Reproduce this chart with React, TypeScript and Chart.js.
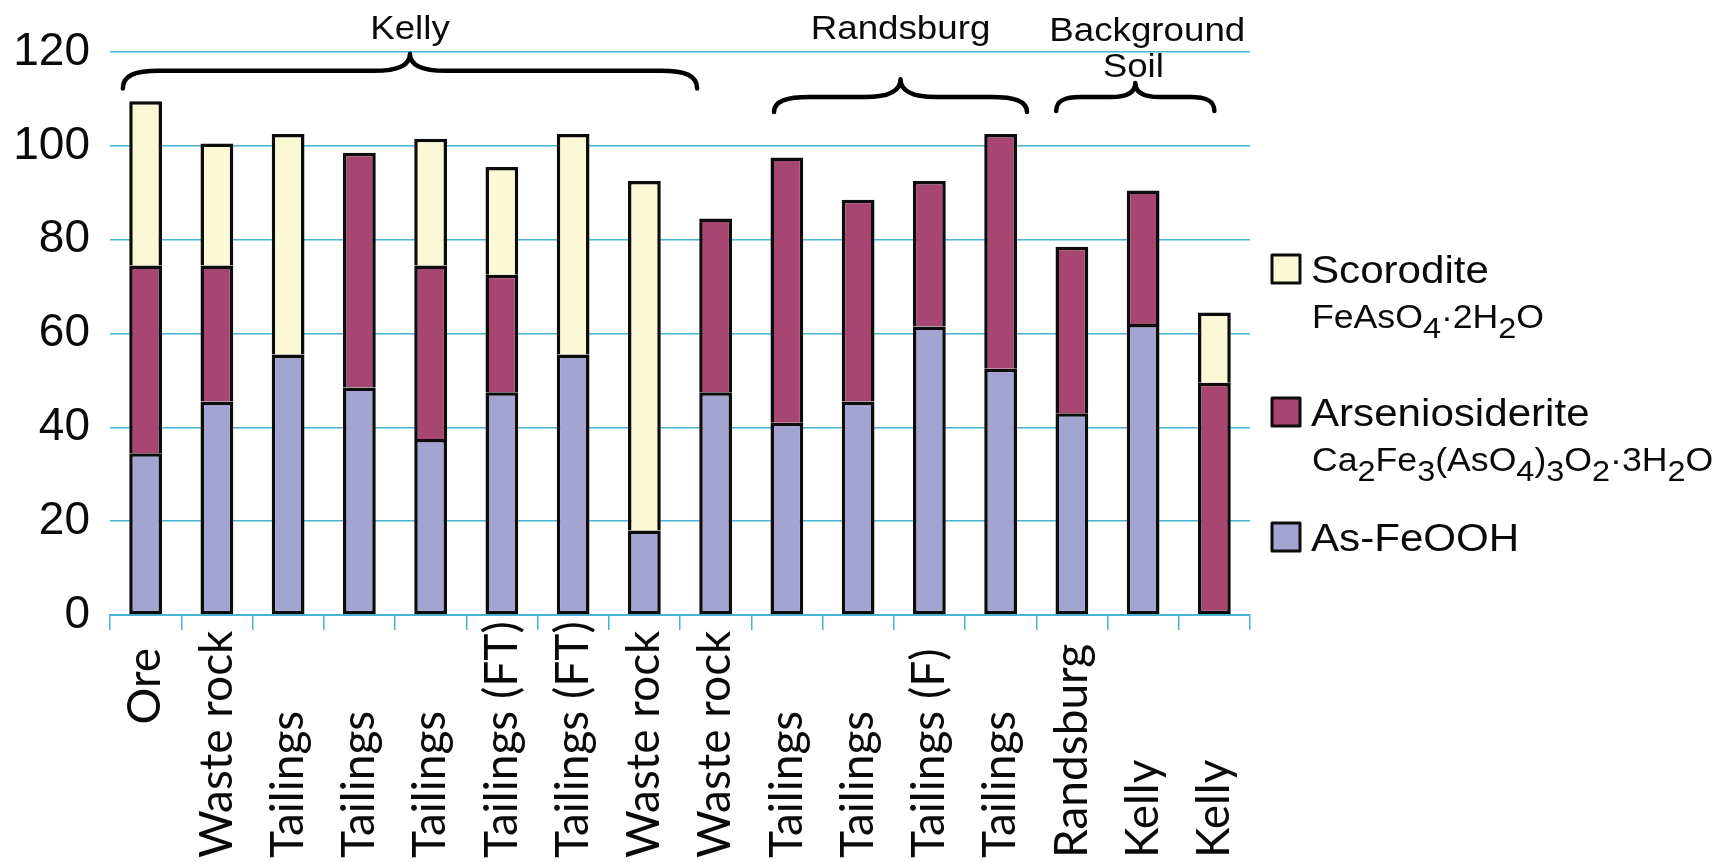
import React, { useEffect, useRef } from "react";
import { Chart, registerables } from "chart.js";

Chart.register(...registerables);

// Sample sites along the x axis
const categories = [
  "Ore", "Waste rock", "Tailings", "Tailings", "Tailings", "Tailings (FT)",
  "Tailings (FT)", "Waste rock", "Waste rock", "Tailings", "Tailings",
  "Tailings (F)", "Tailings", "Randsburg", "Kelly", "Kelly",
];

// Percent of arsenic held in each phase (stack segments, bottom to top)
const asFeOOH = [34.5, 45.5, 55.5, 48.5, 37.5, 47.5, 55.5, 18, 47.5, 41, 45.5, 61.5, 52.5, 43, 62, null];
const arseniosiderite = [40, 29, null, 50, 37, 25, null, null, 37, 56.5, 43, 31, 50, 35.5, 28.5, 49.5];
const scorodite = [35, 26, 47, null, 27, 23, 47, 74.5, null, null, null, null, null, null, null, 15];

const yMin = 0;
const yMax = 120;
const yStep = 20;

// Site groups shown with braces above the bars
const groupNames = [["Kelly"], ["Randsburg"], ["Background", "Soil"]];

// Legend names and formulas (formula parts: [text, subscript?])
const legendNames = ["Scorodite", "Arseniosiderite", "As-FeOOH"];
const scoroditeFormula: [string, boolean][] = [
  ["FeAsO", false], ["4", true], ["\u00B72H", false], ["2", true], ["O", false],
];
const arseniosideriteFormula: [string, boolean][] = [
  ["Ca", false], ["2", true], ["Fe", false], ["3", true], ["(AsO", false], ["4", true],
  [")", false], ["3", true], ["O", false], ["2", true], ["\u00B73H", false], ["2", true], ["O", false],
];

const COLORS = {
  feooh: "#a3a4d2",
  arsenio: "#a84672",
  scorodite: "#fbf8d5",
  edge: "#0c0c0c",
  grid: "#47b4d4",
  text: "#0a0a0a",
};

const ARIAL = "'Liberation Sans', Arial, sans-serif";
const LABEL_FONT = "Lato, 'Open Sans', sans-serif";
const TEXT_SX = 1.08; // horizontal stretch applied to annotation text

const series = [asFeOOH, arseniosiderite, scorodite];

function stretchedText(ctx: CanvasRenderingContext2D, text: string, x: number, y: number, align: CanvasTextAlign) {
  ctx.save();
  ctx.translate(x, y);
  ctx.scale(TEXT_SX, 1);
  ctx.textAlign = align;
  ctx.fillText(text, 0, 0);
  ctx.restore();
}

function drawFormula(ctx: CanvasRenderingContext2D, parts: [string, boolean][], x: number, y: number) {
  let cx = x;
  for (const [t, sub] of parts) {
    ctx.font = sub ? `30px ${ARIAL}` : `33px ${ARIAL}`;
    const dy = sub ? 10 : 0;
    ctx.save();
    ctx.translate(cx, y + dy);
    ctx.scale(TEXT_SX, 1);
    ctx.textAlign = "left";
    ctx.fillText(t, 0, 0);
    ctx.restore();
    cx += ctx.measureText(t).width * TEXT_SX;
  }
}

function drawBrace(ctx: CanvasRenderingContext2D, x1: number, x2: number, yTip: number, yBar: number, yEnd: number) {
  const xm = (x1 + x2) / 2;
  const r = Math.min(36, (x2 - x1) / 6.5);
  const h = yEnd - yBar;
  const t = yBar - yTip;
  ctx.beginPath();
  ctx.moveTo(x1, yEnd);
  ctx.bezierCurveTo(x1, yBar + h * 0.25, x1 + r * 0.35, yBar, x1 + r, yBar);
  ctx.lineTo(xm - r, yBar);
  ctx.bezierCurveTo(xm - r * 0.3, yBar, xm, yBar - t * 0.35, xm, yTip);
  ctx.bezierCurveTo(xm, yBar - t * 0.35, xm + r * 0.3, yBar, xm + r, yBar);
  ctx.lineTo(x2 - r, yBar);
  ctx.bezierCurveTo(x2 - r * 0.35, yBar, x2, yBar + h * 0.25, x2, yEnd);
  ctx.stroke();
}

// Brace extents in category units, heights in axis units, text offsets in px
const braceLayout = [
  { from: -0.32, to: 7.74, tip: 119.6, bar: 116.0, end: 112.2, text: [122.8], dx: [0] },
  { from: 8.82, to: 12.37, tip: 114.2, bar: 110.4, end: 107.2, text: [122.8], dx: [0] },
  { from: 12.78, to: 15.0, tip: 113.4, bar: 110.4, end: 107.4, text: [122.4, 114.7], dx: [12, -2] },
];

// Labels that hang from the axis instead of sitting on the bottom edge
const hangingLabels = [0];

const overlayPlugin = {
  id: "overlay",
  afterDraw(chart: any) {
    const ctx: CanvasRenderingContext2D = chart.ctx;
    const xs = chart.scales.x;
    const ys = chart.scales.y;
    ctx.save();
    ctx.fillStyle = COLORS.text;

    // rotated category labels
    ctx.font = `46px ${LABEL_FONT}`;
    ctx.textBaseline = "middle";
    categories.forEach((label, i) => {
      const px = xs.getPixelForValue(i);
      ctx.save();
      if (hangingLabels.includes(i)) {
        ctx.translate(px, xs.bottom - 214);
        ctx.rotate(-Math.PI / 2);
        ctx.textAlign = "right";
      } else {
        ctx.translate(px, xs.bottom - 4);
        ctx.rotate(-Math.PI / 2);
        ctx.textAlign = "left";
      }
      ctx.fillText(label, 0, 0);
      ctx.restore();
    });

    // group braces and names
    ctx.strokeStyle = "#000";
    ctx.lineWidth = 4.5;
    ctx.lineCap = "round";
    ctx.lineJoin = "round";
    ctx.textBaseline = "alphabetic";
    ctx.font = `34px ${ARIAL}`;
    braceLayout.forEach((b, g) => {
      const x1 = xs.getPixelForValue(b.from);
      const x2 = xs.getPixelForValue(b.to);
      drawBrace(ctx, x1, x2, ys.getPixelForValue(b.tip), ys.getPixelForValue(b.bar), ys.getPixelForValue(b.end));
      groupNames[g].forEach((line, k) => {
        stretchedText(ctx, line, (x1 + x2) / 2 + b.dx[k], ys.getPixelForValue(b.text[k]), "center");
      });
    });

    // legend
    const sw = 28;
    const lx = chart.chartArea.right + 22;
    const tx = lx + 39;
    const fills = [COLORS.scorodite, COLORS.arsenio, COLORS.feooh];
    const swTops = [255, 398, 523];
    const formulas = [scoroditeFormula, arseniosideriteFormula, null];
    legendNames.forEach((name, i) => {
      ctx.fillStyle = fills[i];
      ctx.fillRect(lx, swTops[i], sw, sw);
      ctx.lineWidth = 3;
      ctx.strokeStyle = COLORS.edge;
      ctx.strokeRect(lx, swTops[i], sw, sw);
      ctx.fillStyle = COLORS.text;
      ctx.font = `39px ${ARIAL}`;
      stretchedText(ctx, name, tx, swTops[i] + sw, "left");
      const f = formulas[i];
      if (f) drawFormula(ctx, f, tx + 1, swTops[i] + sw + 45);
    });
    ctx.restore();
  },
};

function lowestSegment(datasetIndex: number, dataIndex: number) {
  for (let k = 0; k < datasetIndex; k++) {
    if (series[k][dataIndex] != null) return false;
  }
  return true;
}

export default function App() {
  const canvasRef = useRef<HTMLCanvasElement | null>(null);

  useEffect(() => {
    const canvas = canvasRef.current;
    if (!canvas) return;
    const skip = (c: any) => (lowestSegment(c.datasetIndex, c.dataIndex) ? false : "start");
    const chart = new Chart(canvas, {
      type: "bar",
      data: {
        labels: categories,
        datasets: [
          { label: legendNames[2], data: asFeOOH, backgroundColor: COLORS.feooh },
          { label: legendNames[1], data: arseniosiderite, backgroundColor: COLORS.arsenio },
          { label: legendNames[0], data: scorodite, backgroundColor: COLORS.scorodite },
        ].map((d) => ({
          ...d,
          borderColor: COLORS.edge,
          borderWidth: 3.5,
          borderSkipped: skip,
          categoryPercentage: 1,
          barPercentage: 0.46,
        })) as any,
      },
      options: {
        animation: false,
        responsive: false,
        devicePixelRatio: 1,
        layout: { padding: { left: 0, right: 472, top: 52, bottom: 0 } },
        plugins: { legend: { display: false }, tooltip: { enabled: false } },
        scales: {
          x: {
            stacked: true,
            offset: true,
            grid: {
              offset: true,
              drawOnChartArea: false,
              drawTicks: true,
              tickLength: 15,
              color: COLORS.grid,
              lineWidth: 1.5,
            },
            border: { display: true, color: COLORS.grid, width: 2 },
            ticks: { display: false },
            afterFit: (s: any) => {
              s.height = 247;
            },
          },
          y: {
            stacked: true,
            min: yMin,
            max: yMax,
            grid: { color: COLORS.grid, lineWidth: 1.5, drawTicks: false },
            border: { display: false },
            ticks: {
              stepSize: yStep,
              padding: 20,
              color: COLORS.text,
              font: { family: ARIAL, size: 46 },
            },
            afterFit: (s: any) => {
              s.width = 110;
            },
          },
        },
      },
      plugins: [overlayPlugin],
    });
    return () => chart.destroy();
  }, []);

  return (
    <div style={{ position: "absolute", left: 0, top: 0, width: 1722, height: 862, background: "#fff" }}>
      <canvas ref={canvasRef} width={1722} height={862} style={{ display: "block" }} />
    </div>
  );
}
